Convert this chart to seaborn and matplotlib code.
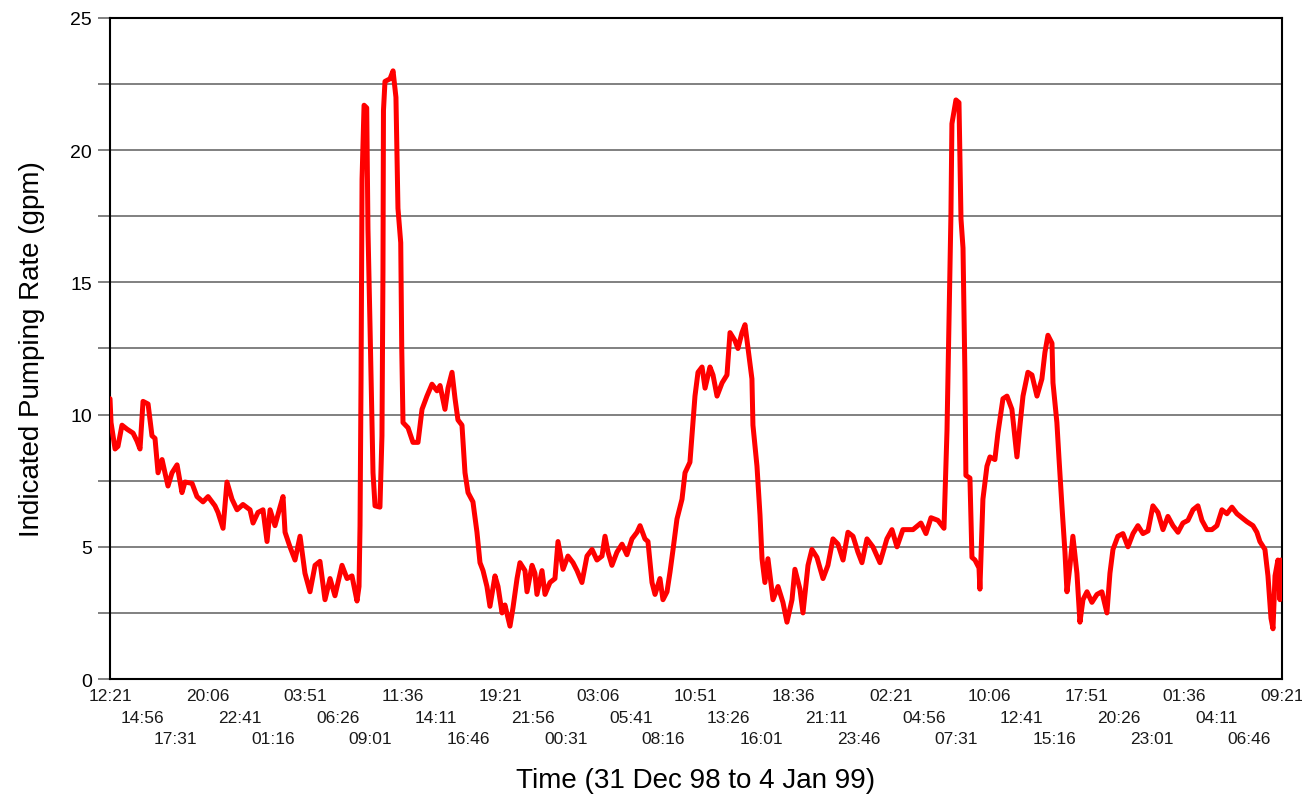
import matplotlib
matplotlib.use("Agg")
import matplotlib.pyplot as plt
import seaborn as sns
import numpy as np
import pandas as pd

# Elapsed hours since 12:21 on 31 Dec 98, and indicated pumping rate (gpm)
elapsed_h = [
    0.00, 0.08, 0.40, 0.63, 0.95, 1.35, 1.83, 2.14, 2.38, 2.62, 3.02, 3.33, 3.57, 3.81,
    4.13, 4.36, 4.60, 4.92, 5.32, 5.71, 5.95, 6.51, 6.90, 7.38, 7.78, 8.33, 8.57, 8.97,
    9.28, 9.68, 10.08, 10.55, 11.11, 11.35, 11.74, 12.14, 12.46, 12.70, 13.09, 13.49,
    13.73, 13.89, 14.28, 14.68, 15.08, 15.47, 15.87, 16.27, 16.66, 17.06, 17.46, 17.85,
    18.41, 18.81, 19.20, 19.60, 19.76, 19.84, 19.92, 20.00, 20.16, 20.37, 20.47, 20.63,
    20.79, 20.87, 21.03, 21.42, 21.58, 21.66, 21.70, 21.82, 22.22, 22.46, 22.69, 22.85,
    23.07, 23.15, 23.25, 23.65, 24.04, 24.44, 24.76, 25.15, 25.55, 25.95, 26.19, 26.58,
    26.82, 27.14, 27.38, 27.61, 27.93, 28.17, 28.41, 28.80, 29.12, 29.36, 29.60, 29.91,
    30.15, 30.55, 30.79, 31.11, 31.34, 31.74, 31.98, 32.30, 32.53, 32.93, 33.09, 33.49,
    33.72, 33.88, 34.28, 34.52, 34.91, 35.31, 35.55, 35.95, 36.34, 36.74, 37.06, 37.45,
    37.85, 38.25, 38.64, 39.04, 39.28, 39.52, 39.83, 40.23, 40.63, 41.02, 41.42, 41.82,
    42.06, 42.45, 42.69, 43.01, 43.25, 43.64, 43.88, 44.20, 44.44, 44.68, 44.99, 45.39,
    45.63, 46.02, 46.18, 46.42, 46.66, 46.98, 47.22, 47.61, 47.85, 48.17, 48.57, 48.96,
    49.20, 49.59, 49.83, 50.15, 50.39, 50.63, 50.94, 51.02, 51.34, 51.58, 51.74, 51.97,
    52.21, 52.61, 53.01, 53.40, 53.72, 54.12, 54.35, 54.75, 54.99, 55.39, 55.70, 56.10,
    56.58, 56.97, 57.37, 57.77, 58.17, 58.56, 58.96, 59.35, 59.67, 60.07, 60.54, 61.10,
    61.65, 62.05, 62.45, 62.92, 63.72, 64.35, 64.75, 65.15, 65.70, 66.18, 66.42, 66.58,
    66.73, 66.81, 67.13, 67.37, 67.53, 67.69, 67.84, 67.92, 68.24, 68.40, 68.64, 68.96,
    69.03, 69.27, 69.59, 69.83, 70.22, 70.46, 70.86, 71.18, 71.57, 71.97, 72.21, 72.45,
    72.84, 73.16, 73.56, 73.95, 74.19, 74.43, 74.75, 74.83, 75.14, 75.30, 75.54, 75.78,
    75.94, 76.18, 76.41, 76.73, 76.97, 77.21, 77.53, 77.92, 78.32, 78.71, 79.11, 79.35,
    79.59, 79.98, 80.38, 80.78, 81.18, 81.57, 81.97, 82.37, 82.76, 83.16, 83.56, 83.95,
    84.35, 84.75, 85.14, 85.54, 85.94, 86.33, 86.65, 87.05, 87.44, 87.84, 88.24, 88.63,
    89.03, 89.43, 89.83, 90.22, 90.70, 91.01, 91.25, 91.65, 91.89, 92.13, 92.29, 92.45,
    92.68, 92.84, 92.92,
]

rate_gpm = [
    10.6, 9.7, 8.7, 8.8, 9.6, 9.45, 9.3, 9.0, 8.7, 10.5, 10.4, 9.2, 9.1, 7.8,
    8.3, 7.8, 7.3, 7.8, 8.1, 7.05, 7.45, 7.4, 6.9, 6.7, 6.9, 6.55, 6.3, 5.7,
    7.45, 6.8, 6.4, 6.6, 6.4, 5.9, 6.3, 6.4, 5.2, 6.4, 5.8, 6.5,
    6.9, 5.55, 5.0, 4.5, 5.4, 4.0, 3.3, 4.3, 4.45, 3.0, 3.8, 3.15,
    4.3, 3.8, 3.9, 2.95, 3.5, 5.8, 11.3, 18.9, 21.7, 21.6, 17.0, 13.4,
    9.6, 7.8, 6.55, 6.5, 9.2, 15.4, 21.5, 22.6, 22.7, 23.0, 22.0, 17.8,
    16.5, 12.5, 9.7, 9.5, 8.95, 8.95, 10.2, 10.7, 11.15, 10.9, 11.1, 10.2,
    11.0, 11.6, 10.6, 9.8, 9.6, 7.8, 7.05, 6.7, 5.55, 4.4, 4.1, 3.5,
    2.75, 3.9, 3.5, 2.5, 2.8, 2.0, 2.7, 3.8, 4.4, 4.1, 3.3, 4.3,
    4.0, 3.2, 4.1, 3.2, 3.65, 3.8, 5.2, 4.15, 4.65, 4.4, 4.1, 3.65,
    4.65, 4.9, 4.5, 4.65, 5.4, 4.8, 4.3, 4.8, 5.1, 4.7, 5.3, 5.55,
    5.8, 5.3, 5.2, 3.65, 3.2, 3.8, 3.0, 3.3, 4.05, 4.9, 6.05, 6.8,
    7.8, 8.2, 9.2, 10.7, 11.6, 11.8, 11.0, 11.8, 11.5, 10.7, 11.2, 11.5,
    13.1, 12.8, 12.5, 13.1, 13.4, 12.5, 11.35, 9.6, 8.05, 6.2, 4.55, 3.65,
    4.55, 3.0, 3.5, 2.9, 2.15, 3.0, 4.15, 3.4, 2.5, 4.3, 4.9, 4.6,
    3.8, 4.3, 5.3, 5.1, 4.5, 5.55, 5.4, 4.8, 4.4, 5.3, 5.0, 4.4,
    5.3, 5.65, 5.0, 5.65, 5.65, 5.9, 5.5, 6.1, 6.0, 5.7, 9.4, 13.5,
    17.5, 21.0, 21.9, 21.8, 17.4, 16.3, 11.6, 7.7, 7.6, 4.6, 4.5, 4.2,
    3.4, 6.8, 8.05, 8.4, 8.3, 9.3, 10.6, 10.7, 10.2, 8.4, 9.6, 10.7,
    11.6, 11.5, 10.7, 11.35, 12.35, 13.0, 12.7, 11.2, 9.7, 8.4, 6.55, 4.8,
    3.3, 4.3, 5.4, 4.0, 2.15, 3.0, 3.3, 2.9, 3.2, 3.3, 2.5, 4.0,
    4.9, 5.4, 5.5, 5.0, 5.5, 5.8, 5.5, 5.6, 6.55, 6.3, 5.65, 6.15,
    5.8, 5.55, 5.9, 6.0, 6.4, 6.55, 6.0, 5.65, 5.65, 5.8, 6.4, 6.25,
    6.5, 6.25, 6.1, 5.95, 5.8, 5.55, 5.2, 4.9, 3.9, 2.3, 1.9, 3.9,
    4.5, 3.0, 4.5,
]

# Clock labels every 2 h 35 min across the record
tick_labels = [
    "12:21", "14:56", "17:31", "20:06", "22:41", "01:16", "03:51", "06:26", "09:01",
    "11:36", "14:11", "16:46", "19:21", "21:56", "00:31", "03:06", "05:41", "08:16",
    "10:51", "13:26", "16:01", "18:36", "21:11", "23:46", "02:21", "04:56", "07:31",
    "10:06", "12:41", "15:16", "17:51", "20:26", "23:01", "01:36", "04:11", "06:46",
    "09:21",
]
tick_step_h = 155 / 60

df = pd.DataFrame({"hours": elapsed_h, "rate": rate_gpm})

sns.set_style("white")
plt.rcParams["font.family"] = ["Liberation Sans", "DejaVu Sans"]

fig = plt.figure(figsize=(13.02, 8.04), dpi=100)
ax = fig.add_axes([0.0845, 0.1542, 0.9001, 0.8222])

sns.lineplot(data=df, x="hours", y="rate", ax=ax, color="#ff0000",
             linewidth=3.6, estimator=None, sort=False, zorder=3)

ax.set_xlim(0, 93)
ax.set_ylim(0, 25)

# Horizontal grid every 2.5 gpm
ax.set_yticks(np.arange(0, 26, 5))
ax.set_yticks(np.arange(2.5, 25, 5), minor=True)
ax.grid(axis="y", which="both", color="#808080", linewidth=1.4)
ax.grid(axis="x", visible=False)
ax.tick_params(axis="y", which="both", direction="out", length=9,
               color="#808080", width=1.4, labelsize=14, pad=4, left=True,
               labelcolor="black")
ax.tick_params(axis="y", which="minor", labelleft=False)

# Time labels staggered over three rows below the axis
positions = [i * tick_step_h for i in range(len(tick_labels))]
ax.set_xticks(positions)
ax.set_xticklabels([])
ax.tick_params(axis="x", length=0)
row_offsets_pt = [-12.2, -27.4, -43.0]
for i, (pos, lab) in enumerate(zip(positions, tick_labels)):
    ax.annotate(lab, xy=(pos, 0), xycoords=("data", "axes fraction"),
                xytext=(0, row_offsets_pt[i % 3]), textcoords="offset points",
                ha="center", va="center", fontsize=12.5, color="#1a1a1a",
                annotation_clip=False)

for side in ["left", "bottom", "top", "right"]:
    ax.spines[side].set_visible(True)
    ax.spines[side].set_color("black")
    ax.spines[side].set_linewidth(1.5)

ax.set_xlabel("Time (31 Dec 98 to 4 Jan 99)", fontsize=20, color="black")
ax.xaxis.set_label_coords(0.5, -0.133)
ax.set_ylabel("Indicated Pumping Rate (gpm)", fontsize=20, labelpad=18,
              color="black")

fig.savefig("out.png", dpi=100, facecolor="white")
